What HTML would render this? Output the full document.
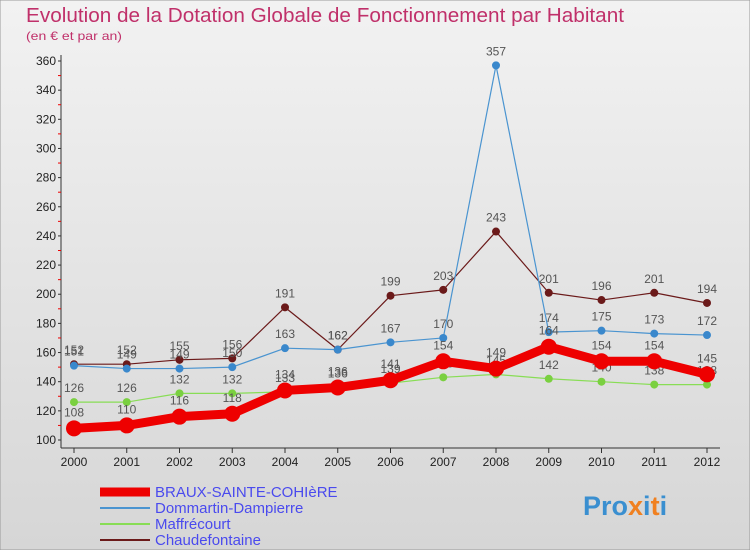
<!DOCTYPE html>
<html><head><meta charset="utf-8"><style>
body{margin:0;width:750px;height:550px;overflow:hidden;font-family:"Liberation Sans",sans-serif}
</style></head><body>
<svg width="750" height="550" xmlns="http://www.w3.org/2000/svg">
<defs><linearGradient id="bg" x1="0" y1="0" x2="0" y2="1"><stop offset="0" stop-color="#f2f2f2"/><stop offset="1" stop-color="#d6d6d6"/></linearGradient></defs>
<rect width="750" height="550" fill="url(#bg)" stroke="#999"/>
<text x="26" y="22" font-size="20" fill="#c0306a" textLength="598" lengthAdjust="spacingAndGlyphs">Evolution de la Dotation Globale de Fonctionnement par Habitant</text>
<text x="26" y="40" font-size="12" fill="#c0306a" textLength="96" lengthAdjust="spacingAndGlyphs">(en € et par an)</text>
<g id="axes"></g><g id="series"></g><g id="legend"></g>
<text x="583" y="515" font-size="27" font-weight="bold" fill="#3a8fd0">Pro<tspan fill="#f08020">x</tspan>i<tspan fill="#f08020">t</tspan>i</text>
</svg>
<script>
const years=["2000","2001","2002","2003","2004","2005","2006","2007","2008","2009","2010","2011","2012"];
const yTicks=[100,120,140,160,180,200,220,240,260,280,300,320,340,360];
const braux=[108,110,116,118,134,136,141,154,149,164,154,154,145];
const dommartin=[151,149,149,150,163,162,167,170,357,174,175,173,172];
const maffrecourt=[126,126,132,132,133,136,139,143,145,142,140,138,138];
const chaudefontaine=[152,152,155,156,191,162,199,203,243,201,196,201,194];
const NS="http://www.w3.org/2000/svg";
const X=i=>74+i*(707-74)/12;
const Y=v=>440-(v-100)*(440-61)/260;
function mk(t,a,p){const e=document.createElementNS(NS,t);for(const k in a)e.setAttribute(k,a[k]);p.appendChild(e);return e;}
const ax=document.getElementById('axes');
let l=mk('line',{x1:61,y1:55,x2:61,y2:448,stroke:'#333'},ax);


l=mk('line',{x1:61,y1:448,x2:720,y2:448,stroke:'#333'},ax);


for(let v=100;v<=360;v+=10){mk('line',{x1:58,y1:Y(v),x2:61,y2:Y(v),stroke:v%20?'#e00':'#333'},ax);}
yTicks.forEach(v=>{const t=mk('text',{x:56,y:Y(v)+4,'font-size':12,'text-anchor':'end',fill:'#222'},ax);t.textContent=v;

});
years.forEach((y,i)=>{mk('line',{x1:X(i),y1:448,x2:X(i),y2:453,stroke:'#333'},ax);const t=mk('text',{x:X(i),y:466,'font-size':12,'text-anchor':'middle',fill:'#222'},ax);t.textContent=y;

});
const sg=document.getElementById('series');
const series=[
 {n:'chaudefontaine',d:chaudefontaine,c:'#6b1a1a',w:1.2,r:4,f:'#6b1a1a'},
 {n:'dommartin',d:dommartin,c:'#4a94d0',w:1.2,r:4,f:'#3a88cc'},
 {n:'maffrecourt',d:maffrecourt,c:'#88dd55',w:1.2,r:4,f:'#7ad040'},
 {n:'braux',d:braux,c:'#ee0000',w:9,r:8,f:'#ee0000'}];
series.forEach(s=>{
 const g=mk('g',{},sg);
 
 
 const p=mk('polyline',{points:s.d.map((v,i)=>X(i)+','+Y(v)).join(' '),fill:'none',stroke:s.c,'stroke-width':s.w,'stroke-linejoin':'round'},g);
 
 
 s.d.forEach((v,i)=>{const c=mk('circle',{cx:X(i),cy:Y(v),r:s.r,fill:s.f},g);
  
  
  const t=mk('text',{x:X(i),y:Y(v)-(s.n==='braux'?12:10),'font-size':12,'text-anchor':'middle',fill:'#555'},g);t.textContent=v;
  
  });
});
const lg=document.getElementById('legend');
const leg=[['BRAUX-SAINTE-COHIèRE','#ee0000',9],['Dommartin-Dampierre','#4a94d0',2],['Maffrécourt','#88dd55',2],['Chaudefontaine','#6b1a1a',2]];
leg.forEach((e,i)=>{const y=492+i*16;
 const g=mk('g',{},lg);
 
 
 mk('line',{x1:100,y1:y,x2:150,y2:y,stroke:e[1],'stroke-width':e[2]},g);
 const t=mk('text',{x:155,y:y+5,'font-size':15,fill:'#4a4aee'},g);t.textContent=e[0];
 
 });
</script>
</body></html>
